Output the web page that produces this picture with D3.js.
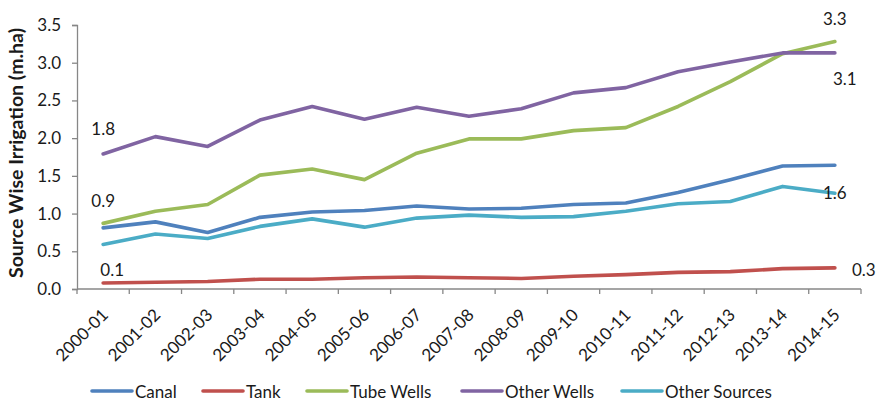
<!DOCTYPE html>
<html>
<head>
<meta charset="utf-8">
<script src="https://cdn.jsdelivr.net/npm/d3@7"></script>
<style>
  html, body { margin: 0; padding: 0; background: #fff; }
  svg { display: block; font-family: Lato, "Liberation Sans", sans-serif; }
</style>
</head>
<body>
<svg id="chart" width="877" height="400"></svg>
<script>
// Source-wise net irrigated area, million hectares
const years = ["2000-01","2001-02","2002-03","2003-04","2004-05","2005-06","2006-07","2007-08",
               "2008-09","2009-10","2010-11","2011-12","2012-13","2013-14","2014-15"];
const canal        = [0.81,0.89,0.75,0.95,1.02,1.04,1.10,1.06,1.07,1.12,1.14,1.28,1.45,1.63,1.64];
const tank         = [0.08,0.09,0.10,0.13,0.13,0.15,0.16,0.15,0.14,0.17,0.19,0.22,0.23,0.27,0.28];
const tubeWells    = [0.87,1.03,1.12,1.51,1.59,1.45,1.80,1.99,1.99,2.10,2.14,2.42,2.75,3.12,3.28];
const otherWells   = [1.79,2.02,1.89,2.24,2.42,2.25,2.41,2.29,2.39,2.60,2.67,2.88,3.01,3.13,3.13];
const otherSources = [0.59,0.73,0.67,0.83,0.93,0.82,0.94,0.98,0.95,0.96,1.03,1.13,1.16,1.36,1.27];
const yTicks = [0, 0.5, 1.0, 1.5, 2.0, 2.5, 3.0, 3.5];

const seriesNames  = ["Canal","Tank","Tube Wells","Other Wells","Other Sources"];
const seriesValues = [canal, tank, tubeWells, otherWells, otherSources];
const seriesColors = ["#4F81BD","#C0504D","#9BBB59","#8064A2","#4BACC6"];

// Value labels: series index, point index, offset of the label centre from the point
const valueLabels = [
  { s: 3, i: 0,  dx: 0,  dy: -25 },
  { s: 2, i: 0,  dx: 0,  dy: -23 },
  { s: 1, i: 0,  dx: 9,  dy: -13 },
  { s: 2, i: 14, dx: 0,  dy: -23 },
  { s: 3, i: 14, dx: 10, dy: 26 },
  { s: 0, i: 14, dx: 0,  dy: 27 },
  { s: 1, i: 14, dx: 29, dy: 2 }
];

const svg = d3.select("#chart");
const plot = { left: 77, right: 861, top: 25, bottom: 289 };
const axisColor = "#878787";
const textColor = "#1a1a1a";

const x = d3.scaleBand().domain(years).range([plot.left, plot.right]).padding(0);
const y = d3.scaleLinear().domain([0, 3.5]).range([plot.bottom, plot.top]);
const cx = d => x(d) + x.bandwidth() / 2;

// Y axis
const yAxis = svg.append("g")
  .attr("transform", `translate(${plot.left},0)`)
  .call(d3.axisLeft(y).tickValues(yTicks).tickFormat(d3.format(".1f")).tickSize(5).tickPadding(11));
yAxis.select(".domain").attr("stroke", axisColor).attr("stroke-width", 1.3);
yAxis.selectAll(".tick line").attr("stroke", axisColor).attr("stroke-width", 1.3);
yAxis.selectAll(".tick text").attr("fill", textColor).style("font-size", "17px")
  .style("font-family", "Lato, 'Liberation Sans', sans-serif");

// X axis: ticks on category boundaries
const xAxisG = svg.append("g").attr("transform", `translate(0,${plot.bottom})`);
xAxisG.append("line")
  .attr("x1", plot.left).attr("x2", plot.right)
  .attr("stroke", axisColor).attr("stroke-width", 1.3);
const boundaries = years.map(d => x(d)).concat([x(years[years.length - 1]) + x.bandwidth()]);
xAxisG.selectAll("line.tk").data(boundaries).join("line").attr("class", "tk")
  .attr("x1", d => d).attr("x2", d => d).attr("y1", 0).attr("y2", 5)
  .attr("stroke", axisColor).attr("stroke-width", 1.3);
xAxisG.selectAll("text").data(years).join("text")
  .attr("transform", d => `translate(${cx(d) + 6},${27}) rotate(-45)`)
  .attr("text-anchor", "end")
  .attr("fill", textColor)
  .style("font-size", "17px")
  .text(d => d);

// Y axis title
svg.append("text")
  .attr("transform", `translate(23,${(plot.top + plot.bottom) / 2 - 4}) rotate(-90)`)
  .attr("text-anchor", "middle")
  .attr("fill", textColor)
  .style("font-size", "19.5px")
  .style("font-weight", "bold")
  .text("Source Wise Irrigation (m.ha)");

// Lines
const line = d3.line().x((d, i) => cx(years[i])).y(d => y(d));
svg.append("g").selectAll("path").data(seriesValues).join("path")
  .attr("d", d => line(d))
  .attr("fill", "none")
  .attr("stroke", (d, i) => seriesColors[i])
  .attr("stroke-width", 3.6)
  .attr("stroke-linejoin", "round")
  .attr("stroke-linecap", "round");

// Value labels
svg.append("g").selectAll("text").data(valueLabels).join("text")
  .attr("x", d => cx(years[d.i]) + d.dx)
  .attr("y", d => y(seriesValues[d.s][d.i]) + d.dy)
  .attr("text-anchor", "middle")
  .attr("dominant-baseline", "central")
  .attr("fill", textColor)
  .style("font-size", "17px")
  .text(d => d3.format(".1f")(seriesValues[d.s][d.i]));

// Legend
const legendX = [92, 203, 307, 462, 622];
const legend = svg.append("g").selectAll("g").data(seriesNames).join("g")
  .attr("transform", (d, i) => `translate(${legendX[i]},391)`);
legend.append("line")
  .attr("x1", 0).attr("x2", 40).attr("y1", 0).attr("y2", 0)
  .attr("stroke", (d, i) => seriesColors[i])
  .attr("stroke-width", 3.6)
  .attr("stroke-linecap", "round");
legend.append("text")
  .attr("x", 43).attr("y", 0)
  .attr("dominant-baseline", "central")
  .attr("fill", textColor)
  .style("font-size", "17px")
  .text(d => d);
</script>
</body>
</html>
